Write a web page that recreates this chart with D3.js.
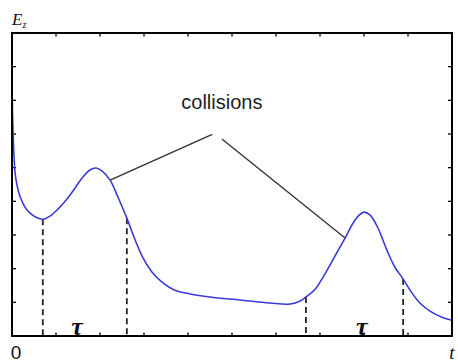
<!DOCTYPE html>
<html>
<head>
<meta charset="utf-8">
<script src="https://cdn.jsdelivr.net/npm/d3@7"></script>
<style>
  body { margin: 0; background: #fff; }
  svg { display: block; }
</style>
</head>
<body>
<div id="chart"></div>
<script>
// energy curve E_z(t)
const tValues = [0, 0.01, 0.023, 0.045, 0.068, 0.114, 0.18, 0.295, 0.41, 0.545, 0.705, 0.864,
  1.045, 1.25, 1.43, 1.61, 1.77, 1.91, 2.05, 2.23, 2.41, 2.61, 2.80, 2.98, 3.18, 3.41,
  3.70, 4.05, 4.5, 5.18, 5.86, 6.32, 6.55, 6.68, 6.89, 7.11, 7.34, 7.57, 7.75, 7.89,
  8.0, 8.14, 8.32, 8.52, 8.70, 8.89, 9.09, 9.27, 9.5, 9.77, 10];
const eValues = [7.80, 6.71, 6.11, 5.37, 4.87, 4.48, 4.15, 3.83, 3.65, 3.53, 3.47, 3.56,
  3.77, 4.07, 4.39, 4.72, 4.93, 4.99, 4.90, 4.63, 4.12, 3.50, 2.85, 2.31, 1.90, 1.60,
  1.36, 1.25, 1.16, 1.07, 0.98, 0.95, 1.04, 1.16, 1.39, 1.84, 2.37, 2.91, 3.35, 3.59,
  3.68, 3.59, 3.20, 2.55, 2.05, 1.69, 1.28, 0.98, 0.74, 0.56, 0.47];

// dashed markers bounding each collision
const markerT = [0.70, 2.61, 6.68, 8.89];
const markerE = [3.47, 3.50, 1.16, 1.69];

// "collisions" pointers: from label to curve
const pointerFrom = [[4.55, 5.99], [4.77, 5.85]];
const pointerTo = [[2.23, 4.63], [7.57, 2.91]];
const labelPos = [4.77, 6.91];

const tauT = [1.48, 7.95];

const xTicks = d3.range(0, 11);
const yTicks = d3.range(0, 10);

const W = 458, H = 362;
const mLeft = 12, mRight = 452, mTop = 33, mBottom = 336;

const svg = d3.select('#chart').append('svg')
  .attr('width', W).attr('height', H);

const x = d3.scaleLinear().domain([0, 10]).range([mLeft, mRight]);
const y = d3.scaleLinear().domain([0, 9]).range([mBottom, mTop]);

// ticks on all four sides, pointing inward
const tk = svg.append('g').attr('stroke', '#000').attr('stroke-width', 1.3);
xTicks.slice(1, -1).forEach(v => {
  tk.append('line').attr('x1', x(v)).attr('x2', x(v)).attr('y1', mTop).attr('y2', mTop + 3.5);
  tk.append('line').attr('x1', x(v)).attr('x2', x(v)).attr('y1', mBottom).attr('y2', mBottom - 3.5);
});
yTicks.slice(1).forEach(v => {
  tk.append('line').attr('x1', mLeft).attr('x2', mLeft + 4).attr('y1', y(v)).attr('y2', y(v));
  tk.append('line').attr('x1', mRight).attr('x2', mRight - 4).attr('y1', y(v)).attr('y2', y(v));
});

// dashed verticals
markerT.forEach((t, i) => {
  svg.append('line')
    .attr('x1', x(t)).attr('x2', x(t))
    .attr('y1', y(markerE[i])).attr('y2', mBottom)
    .attr('stroke', '#222').attr('stroke-width', 1.8)
    .attr('stroke-dasharray', '6,4');
});

// curve
const pts = tValues.map((t, i) => [t, eValues[i]]);
const line = d3.line().x(d => x(d[0])).y(d => y(d[1])).curve(d3.curveCatmullRom.alpha(0.5));
svg.append('path').datum(pts)
  .attr('d', line)
  .attr('fill', 'none')
  .attr('stroke', '#3a3adc')
  .attr('stroke-width', 1.6);

// pointers
pointerFrom.forEach((p, i) => {
  svg.append('line')
    .attr('x1', x(p[0])).attr('y1', y(p[1]))
    .attr('x2', x(pointerTo[i][0])).attr('y2', y(pointerTo[i][1]))
    .attr('stroke', '#333').attr('stroke-width', 1.4);
});

svg.append('text')
  .attr('x', x(labelPos[0])).attr('y', y(labelPos[1]))
  .attr('text-anchor', 'middle').attr('dominant-baseline', 'middle')
  .attr('font-family', 'Liberation Sans, Arial, sans-serif')
  .attr('font-size', 20).attr('fill', '#222')
  .text('collisions');

// frame
svg.append('rect')
  .attr('x', mLeft).attr('y', mTop)
  .attr('width', mRight - mLeft).attr('height', mBottom - mTop)
  .attr('fill', 'none').attr('stroke', '#000').attr('stroke-width', 2);

// tau labels
tauT.forEach(t => {
  svg.append('text')
    .attr('x', x(t)).attr('y', mBottom - 1)
    .attr('text-anchor', 'middle')
    .attr('font-family', 'Liberation Serif, Times New Roman, serif')
    .attr('font-style', 'italic').attr('font-weight', 'bold')
    .attr('font-size', 26).attr('fill', '#111')
    .text('τ');
});

// axis labels
svg.append('text')
  .attr('x', mLeft + 4).attr('y', 359)
  .attr('text-anchor', 'middle')
  .attr('font-family', 'Liberation Sans, Arial, sans-serif')
  .attr('font-size', 19).attr('fill', '#111')
  .text('0');

svg.append('text')
  .attr('x', mRight).attr('y', 359)
  .attr('text-anchor', 'middle')
  .attr('font-family', 'Liberation Serif, Times New Roman, serif')
  .attr('font-style', 'italic').attr('font-size', 19).attr('fill', '#111')
  .text('t');

const ez = svg.append('text')
  .attr('x', mLeft).attr('y', 25)
  .attr('font-family', 'Liberation Serif, Times New Roman, serif')
  .attr('font-style', 'italic').attr('font-size', 17).attr('fill', '#111');
ez.append('tspan').text('E');
ez.append('tspan').attr('font-size', 10).attr('dy', 3).text('z');
</script>
</body>
</html>
